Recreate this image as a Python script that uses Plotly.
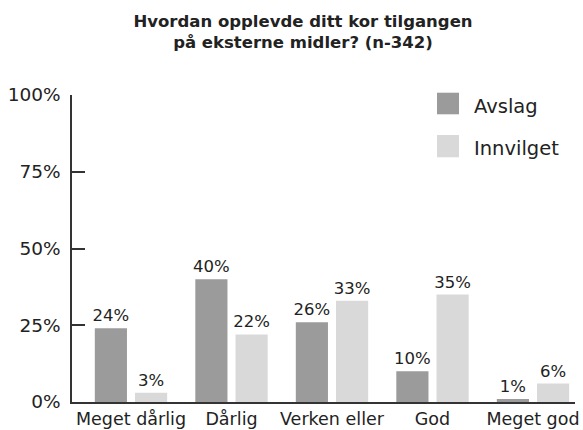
import plotly.graph_objects as go

categories = ["Meget dårlig", "Dårlig", "Verken eller", "God", "Meget god"]
avslag = [24, 40, 26, 10, 1]
innvilget = [3, 22, 33, 35, 6]
series_names = ["Avslag", "Innvilget"]
colors = ["#9b9b9b", "#d9d9d9"]
y_ticks = [0, 25, 50, 75, 100]
y_tick_labels = ["0%", "25%", "50%", "75%", "100%"]
title = "Hvordan opplevde ditt kor tilgangen<br>på eksterne midler? (n-342)"

FONT = "DejaVu Sans"
TXT = "#222222"

FW, FH = 583, 430
PX0, PX1, PY0, PY1 = 72, 575, 95, 402  # plot area in window pixels

fig = go.Figure()
for name, vals, col in zip(series_names, [avslag, innvilget], colors):
    fig.add_trace(go.Bar(
        x=categories, y=vals, name=name, marker_color=col, marker_line_width=0,
        text=[f"{v}%" for v in vals], textposition="outside", cliponaxis=False,
        constraintext="none",
        textfont=dict(family=FONT, size=16.5, color=TXT), showlegend=False,
    ))

fig.update_layout(
    width=FW, height=FH,
    margin=dict(l=PX0, r=FW - PX1, t=PY0, b=FH - PY1, autoexpand=False),
    paper_bgcolor="white", plot_bgcolor="white",
    barmode="group", bargap=0.2, bargroupgap=0.2,
    title=dict(text="<b>" + title + "</b>", x=303 / FW, xanchor="center",
               yref="container", y=1, yanchor="top", pad=dict(t=27),
               font=dict(family=FONT, size=16.5, color=TXT)),
    font=dict(family=FONT, color=TXT),
    xaxis=dict(range=[-0.587, 4.418], showline=True, linecolor="#333333", linewidth=1.5,
               ticks="", tickfont=dict(size=17.5, color=TXT), showgrid=False, automargin=False,
               ticklabelstandoff=0),
    yaxis=dict(range=[0, 100], tickvals=y_ticks, ticktext=y_tick_labels, showline=True,
               linecolor="#333333", linewidth=1.5, ticks="inside", ticklen=13, tickcolor="#333333",
               tickwidth=1.5, tickfont=dict(size=18.5, color=TXT), showgrid=False, zeroline=False,
               ticklabelstandoff=6, automargin=False),
)

W, H = PX1 - PX0, PY1 - PY0
# custom legend (larger swatches)
for name, col, sy0, sy1, ty in zip(series_names, colors, [92.7, 135], [114.3, 157.3], [106, 148.5]):
    fig.add_shape(type="rect", xref="paper", yref="paper",
                  x0=(437 - PX0) / W, x1=(459 - PX0) / W,
                  y0=(PY1 - sy1) / H, y1=(PY1 - sy0) / H,
                  fillcolor=col, line_width=0)
    fig.add_annotation(text=name, xref="paper", yref="paper", x=(472 - PX0) / W,
                       y=(PY1 - ty) / H, xanchor="left", yanchor="middle", showarrow=False,
                       font=dict(family=FONT, size=19.5, color=TXT))

fig.write_html("out.html", config={"displayModeBar": False},
               post_script="document.body.style.margin='0';document.body.style.overflow='hidden';")
